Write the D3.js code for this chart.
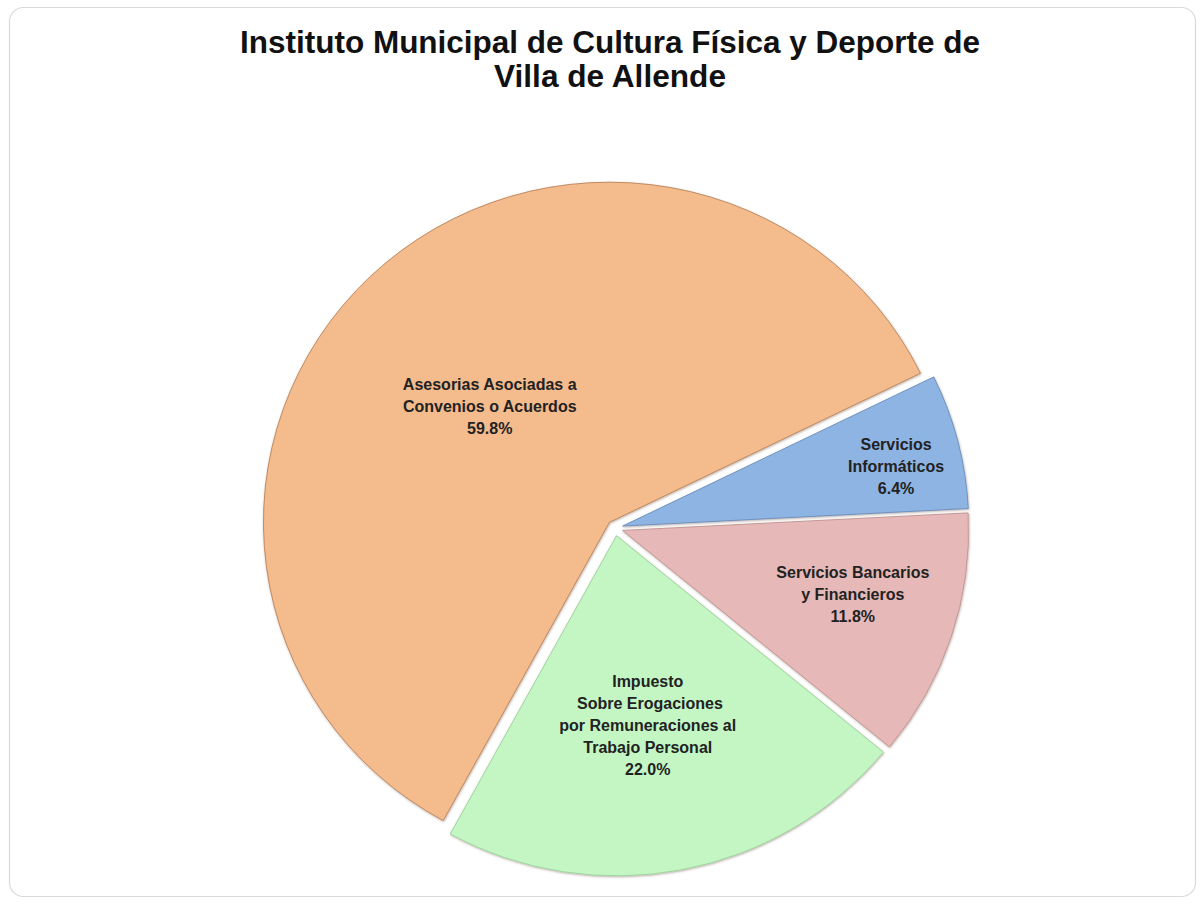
<!DOCTYPE html>
<html>
<head>
<meta charset="utf-8">
<script src="https://cdn.jsdelivr.net/npm/d3@7"></script>
<style>
  html, body { margin: 0; padding: 0; background: #ffffff; }
  svg { display: block; }
  text { font-family: "Liberation Sans", Arial, sans-serif; }
</style>
</head>
<body>
<div id="chart"></div>
<script>
// ---- Data ----
const titleLines = ["Instituto Municipal de Cultura Física y Deporte de", "Villa de Allende"];
const categories = [
  "Servicios Informáticos",
  "Servicios Bancarios y Financieros",
  "Impuesto Sobre Erogaciones por Remuneraciones al Trabajo Personal",
  "Asesorias Asociadas a Convenios o Acuerdos"
];
const labelLines = [
  ["Servicios", "Informáticos"],
  ["Servicios Bancarios", "y Financieros"],
  ["Impuesto", " Sobre Erogaciones", "por Remuneraciones al", "Trabajo Personal"],
  ["Asesorias Asociadas a", "Convenios o Acuerdos"]
];
const values = [6.4, 11.8, 22.0, 59.8];
const colors = ["#8DB4E2", "#E6B9B8", "#C4F6C4", "#F4BB8D"];
const edgeColors = ["#6f92bf", "#c49897", "#9fd49f", "#c08a60"];

// ---- Layout ----
const W = 1204, H = 904;
const cx = 615, cy = 528;
const R = 346, sy = 0.983;
const explode = 8;
const labelRadius = [0.832, 0.715, 0.587, 0.509];
const labelAngleShift = [2.0, -2.3, 1.6, -1.7]; // degrees, best-fit nudges
const startDeg = 64;

const svg = d3.select("#chart").append("svg").attr("width", W).attr("height", H);

const defs = svg.append("defs");
const f = defs.append("filter").attr("id", "sh").attr("x", "-10%").attr("y", "-10%").attr("width", "120%").attr("height", "120%");
f.append("feDropShadow").attr("dx", 0.5).attr("dy", 1).attr("stdDeviation", 1.3)
  .attr("flood-color", "#6b5040").attr("flood-opacity", 0.45);

// frame
svg.append("rect").attr("x", 9.5).attr("y", 7.5).attr("width", 1186).attr("height", 889)
  .attr("rx", 14).attr("fill", "#fff").attr("stroke", "#d9d9d9").attr("stroke-width", 1.2);

// title
const tWidths = [740, 232];
titleLines.forEach((t, i) => {
  svg.append("text")
    .attr("x", 610).attr("y", 53 + i * 34)
    .attr("text-anchor", "middle")
    .attr("font-size", 32).attr("font-weight", "bold").attr("fill", "#111")
    .attr("textLength", tWidths[i]).attr("lengthAdjust", "spacingAndGlyphs")
    .text(t);
});

const rad = Math.PI / 180;
const pie = d3.pie().sort(null).value(d => d)
  .startAngle(startDeg * rad).endAngle(startDeg * rad + 2 * Math.PI);
const arcs = pie(values);
const arc = d3.arc().innerRadius(0).outerRadius(R);

const pieG = svg.append("g").attr("transform", `translate(${cx},${cy}) scale(1,${sy})`);

pieG.selectAll("path").data(arcs).enter().append("path")
  .attr("d", arc)
  .attr("transform", d => {
    const m = (d.startAngle + d.endAngle) / 2;
    return `translate(${explode * Math.sin(m)},${-explode * Math.cos(m)})`;
  })
  .attr("fill", (d, i) => colors[i])
  .attr("stroke", (d, i) => edgeColors[i])
  .attr("stroke-width", 1)
  .attr("filter", "url(#sh)");

// labels
const fmt = d3.format(".1f");
const lineH = 22;
arcs.forEach((d, i) => {
  const m = (d.startAngle + d.endAngle) / 2 + labelAngleShift[i] * rad;
  const rr = R * labelRadius[i];
  const lx = cx + rr * Math.sin(m);
  const ly = cy - rr * Math.cos(m) * sy;
  const lines = labelLines[i].concat([fmt(d.data) + "%"]);
  const n = lines.length;
  const t = svg.append("text")
    .attr("text-anchor", "middle")
    .attr("font-size", 16).attr("font-weight", "bold").attr("fill", "#222")
    .style("white-space", "pre");
  lines.forEach((s, k) => {
    t.append("tspan")
      .attr("x", lx)
      .attr("y", ly + (k - (n - 1) / 2) * lineH + 5.5)
      .text(s);
  });
});
</script>
</body>
</html>
